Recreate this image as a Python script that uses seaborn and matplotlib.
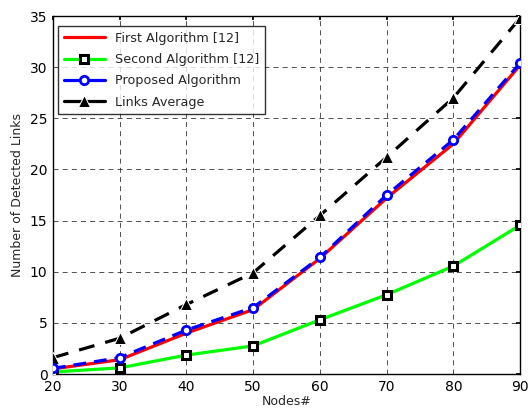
import matplotlib
matplotlib.use("Agg")
import matplotlib.pyplot as plt
import pandas as pd
import seaborn as sns

nodes = [20, 30, 40, 50, 60, 70, 80, 90]
first_alg = [0.5, 1.4, 4.0, 6.3, 11.3, 17.2, 22.5, 30.2]
second_alg = [0.2, 0.6, 1.85, 2.75, 5.3, 7.75, 10.55, 14.55]
proposed_alg = [0.55, 1.6, 4.3, 6.5, 11.4, 17.5, 22.9, 30.4]
links_avg = [1.6, 3.5, 6.8, 9.9, 15.5, 21.2, 27.0, 34.8]

sns.set_theme(style="white")
plt.rcParams.update({"font.family": ["DejaVu Sans"], "font.size": 9})

fig = plt.figure(figsize=(5.28, 4.12), dpi=100)
ax = fig.add_axes([0.1004, 0.0922, 0.8846, 0.8689])

df = pd.DataFrame({"nodes": nodes, "first": first_alg, "second": second_alg,
                   "proposed": proposed_alg, "avg": links_avg})

sns.lineplot(data=df, x="nodes", y="first", ax=ax, color="#ff0000", lw=2.3,
             label="First Algorithm [12]", zorder=3)
sns.lineplot(data=df, x="nodes", y="second", ax=ax, color="#00ff00", lw=2.3,
             marker="s", markersize=5.5, markerfacecolor="white",
             markeredgecolor="black", markeredgewidth=2.2,
             label="Second Algorithm [12]", zorder=3)
sns.lineplot(data=df, x="nodes", y="proposed", ax=ax, color="#0000ff", lw=2.3,
             linestyle=(0, (4, 2.5)), marker="o", markersize=6,
             markerfacecolor="white", markeredgecolor="#0000ff",
             markeredgewidth=2.0, label="Proposed Algorithm", zorder=4)
sns.lineplot(data=df, x="nodes", y="avg", ax=ax, color="black", lw=2.3,
             linestyle=(0, (5, 3.5)), marker="^", markersize=9,
             label="Links Average", zorder=3)

ax.set_xlim(20, 90)
ax.set_ylim(0, 35)
ax.set_xticks(nodes)
ax.set_yticks(range(0, 36, 5))
ax.grid(True, color="#333333", linestyle=(0, (6, 5)), lw=0.6)
ax.tick_params(direction="in", length=3, top=True, right=True,
               labelsize=10, colors="black", pad=4)
for s in ax.spines.values():
    s.set_color("black")
    s.set_linewidth(1.0)
ax.set_xlabel("Nodes#", fontsize=9, labelpad=1)
ax.set_ylabel("Number of Detected Links", fontsize=9, labelpad=4)

leg = ax.legend(loc="upper left", bbox_to_anchor=(0.011, 0.972), fontsize=9.2,
                frameon=True, fancybox=False, handlelength=3.2,
                borderpad=0.45, labelspacing=0.65, borderaxespad=0)
# legend swatches are drawn solid, as in the original
for ln in leg.get_lines():
    ln.set_linestyle("-")
leg.get_frame().set_edgecolor("black")
leg.get_frame().set_linewidth(1.0)
leg.set_zorder(10)

fig.savefig("out.png", dpi=100)
